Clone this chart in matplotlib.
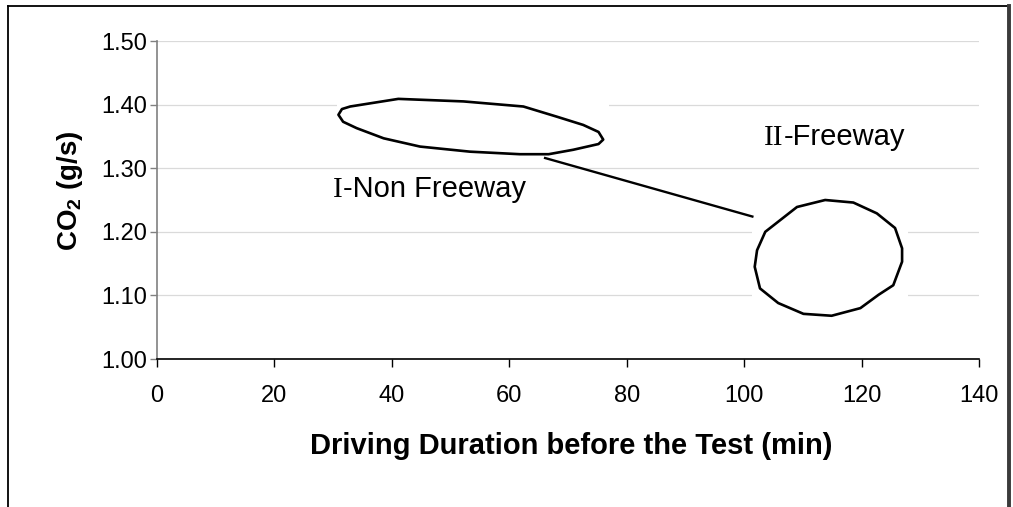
import matplotlib
matplotlib.use("Agg")
import matplotlib.pyplot as plt
from matplotlib.patches import Rectangle, Polygon
from matplotlib.lines import Line2D

# Axis ticks
x_ticks = [0, 20, 40, 60, 80, 100, 120, 140]
y_ticks = [1.00, 1.10, 1.20, 1.30, 1.40, 1.50]
y_tick_labels = ["1.00", "1.10", "1.20", "1.30", "1.40", "1.50"]

# Outline of the non-freeway cluster (I)
nonfwy_x = [30.9, 31.5, 32.9, 41.1, 52.2, 62.4, 68.1, 72.6, 75.2, 76.0, 75.2, 70.9,
            66.7, 61.8, 53.3, 44.8, 38.6, 34.0, 31.7]
nonfwy_y = [1.384, 1.393, 1.397, 1.409, 1.405, 1.397, 1.381, 1.368, 1.357, 1.345,
            1.338, 1.329, 1.322, 1.322, 1.326, 1.334, 1.347, 1.363, 1.373]

# Outline of the freeway cluster (II)
fwy_x = [103.6, 109.0, 113.8, 118.6, 122.6, 125.7, 126.9, 126.9, 125.4, 122.9, 119.8,
         114.9, 110.1, 105.8, 102.7, 101.8, 102.2]
fwy_y = [1.200, 1.239, 1.250, 1.246, 1.229, 1.206, 1.174, 1.153, 1.116, 1.101, 1.080,
         1.068, 1.071, 1.088, 1.111, 1.145, 1.171]

# Connector between the two clusters
link_x = [66.1, 101.4]
link_y = [1.316, 1.224]

label_nonfwy = ("I", "-Non Freeway")
label_fwy = ("II", "-Freeway")
label_nonfwy_pos = (30.0, 1.255)
label_fwy_pos = (103.4, 1.337)

SANS = "Liberation Sans"
SERIF = "Liberation Serif"
plt.rcParams["font.family"] = SANS

W, H = 1013, 507
fig = plt.figure(figsize=(W / 100, H / 100), dpi=100)
fig.patch.set_facecolor("white")

ax = fig.add_axes([157 / W, 1 - 359 / H, (979 - 157) / W, (359 - 41) / H])
ax.set_xlim(0, 140)
ax.set_ylim(1.00, 1.50)
ax.set_xticks(x_ticks)
ax.set_yticks(y_ticks)
ax.set_yticklabels(y_tick_labels)

for s in ("top", "right"):
    ax.spines[s].set_visible(False)
ax.spines["left"].set_color("#808080")
ax.spines["left"].set_linewidth(1.2)
ax.spines["bottom"].set_color("black")
ax.spines["bottom"].set_linewidth(1.2)

ax.tick_params(axis="y", direction="out", length=5, width=1.0, color="#808080",
               labelsize=17, pad=2)
ax.tick_params(axis="x", direction="out", length=6, width=1.0, color="black",
               labelsize=17, pad=12.5)

ax.set_axisbelow(True)
ax.yaxis.grid(True, color="#dadada", linewidth=0.9)
ax.xaxis.grid(False)

# White backgrounds of the drawn shapes hide the gridlines behind them
def backing(xs, ys, mx_left, mx_right, my):
    x0, x1 = min(xs) - mx_left, max(xs) + mx_right
    y0, y1 = min(ys) - my, max(ys) + my
    ax.add_patch(Rectangle((x0, y0), x1 - x0, y1 - y0, facecolor="white",
                           edgecolor="none", zorder=1.5))

backing(nonfwy_x, nonfwy_y, 0.2, 1.0, 0.006)
backing(fwy_x, fwy_y, 0.4, 1.0, 0.006)

ax.add_patch(Polygon(list(zip(nonfwy_x, nonfwy_y)), closed=True, facecolor="none",
                     edgecolor="black", linewidth=1.9, joinstyle="round", zorder=3))
ax.add_patch(Polygon(list(zip(fwy_x, fwy_y)), closed=True, facecolor="none",
                     edgecolor="black", linewidth=1.9, joinstyle="round", zorder=3))
ax.plot(link_x, link_y, color="black", linewidth=1.7, zorder=3)

# Labels: roman numeral in serif, remainder in sans
def cluster_label(parts, pos, size=21):
    t1 = ax.text(pos[0], pos[1], parts[0], fontfamily=SERIF, fontsize=size,
                 ha="left", va="baseline", zorder=4)
    ax.annotate(parts[1], xy=(1, pos[1]), xycoords=(t1, "data"), fontfamily=SANS,
                fontsize=size, ha="left", va="baseline", zorder=4)

cluster_label(label_nonfwy, label_nonfwy_pos)
cluster_label(label_fwy, label_fwy_pos)

# Axis titles
fig.text(571 / W, 1 - 454 / H, "Driving Duration before the Test (min)",
         fontsize=21, fontweight="bold", ha="center", va="baseline")
fig.text(70 / W, 1 - 191 / H, r"CO$_\mathregular{2}$ (g/s)", fontsize=20,
         fontweight="bold", rotation=90, ha="center", va="center")

# Outer frame
fig.add_artist(Line2D([8 / W, 8 / W], [-0.1, 1 - 6 / H], transform=fig.transFigure,
                      color="black", linewidth=1.3))
fig.add_artist(Line2D([8 / W, 1008 / W], [1 - 6 / H, 1 - 6 / H],
                      transform=fig.transFigure, color="black", linewidth=1.3))
fig.add_artist(Line2D([1009 / W, 1009 / W], [-0.1, 1 - 6 / H],
                      transform=fig.transFigure, color="#3a3a3a", linewidth=2.8))

fig.savefig("out.png", dpi=100, facecolor="white")
